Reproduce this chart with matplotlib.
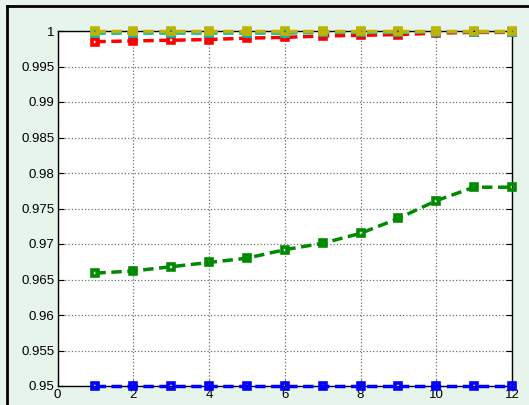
import matplotlib.pyplot as plt
from matplotlib.lines import Line2D

x = list(range(1, 13))

green = [0.9659, 0.9662, 0.9668, 0.9674, 0.9680, 0.9692,
         0.9701, 0.9715, 0.9736, 0.9761, 0.9780, 0.9780]
red = [0.9985, 0.9986, 0.9987, 0.9988, 0.9990, 0.9991,
       0.9993, 0.9994, 0.9995, 0.9997, 0.9998, 0.9998]
cyan = [0.9997, 0.9997, 0.9997, 0.9997, 0.9997, 0.9997,
        0.9998, 0.9998, 0.9998, 0.9999, 0.9999, 0.9999]
olive = [1.0] * 12
blue = [0.95] * 12

yticks = [0.95, 0.955, 0.96, 0.965, 0.97, 0.975, 0.98, 0.985, 0.99, 0.995, 1]
ytick_labels = ["0.95", "0.955", "0.96", "0.965", "0.97", "0.975",
                "0.98", "0.985", "0.99", "0.995", "1"]
xticks = [0, 2, 4, 6, 8, 10, 12]

plt.rcParams["font.family"] = ["Liberation Sans", "DejaVu Sans"]

fig = plt.figure(figsize=(5.29, 4.05), dpi=100)
fig.patch.set_facecolor("#e6f4ec")
ax = fig.add_axes([57.5 / 529, 1 - 386 / 405, 454.5 / 529, 355 / 405])

style = dict(linestyle=(0, (3, 1.6)), linewidth=2.5, marker="s",
             markersize=5.0, markerfacecolor="none", markeredgewidth=2.6,
             clip_on=False, zorder=3)

ax.plot(x, green, color="#008a00", **style)
ax.plot(x, red, color="#ff0000", **style)
ax.plot(x, cyan, color="#00bfbf", **style)
ax.plot(x, olive, color="#c0b400", **style)
ax.plot(x, blue, color="#0000ff", **style)

ax.set_xlim(0, 12)
ax.set_ylim(0.95, 1)
ax.set_xticks(xticks)
ax.set_yticks(yticks)
ax.set_yticklabels(ytick_labels)
ax.tick_params(direction="in", length=4, width=0.8, labelsize=9.5,
               top=True, right=True, pad=2)
ax.grid(True, color="#707070", linestyle=":", linewidth=0.9)
for s in ax.spines.values():
    s.set_linewidth(1.0)

# page border lines around the figure
fig.add_artist(Line2D([7 / 529, 1], [1 - 6 / 405, 1 - 6 / 405],
                      color="black", linewidth=2))
fig.add_artist(Line2D([7 / 529, 7 / 529], [0, 1 - 6 / 405],
                      color="black", linewidth=2))

fig.savefig("out.png", dpi=100, facecolor=fig.get_facecolor())
